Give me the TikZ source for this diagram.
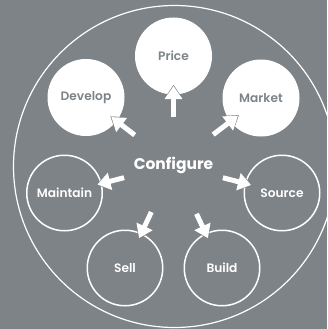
\documentclass[tikz,border=0pt]{standalone}
\usepackage{fontspec}
\setmainfont{Poppins SemiBold}[BoldFont=Poppins]
\newfontfamily\conffont{Poppins}[UprightFont=*-Bold]
\usetikzlibrary{arrows.meta}
\definecolor{bg}{HTML}{7E8387}
\tikzset{
  filledc/.style={circle,draw=white,fill=white,line width=1pt,minimum size=76pt,inner sep=0pt,text=bg,font=\fontsize{12.2}{14}\selectfont},
  openc/.style={circle,draw=white,line width=1.5pt,minimum size=75.5pt,inner sep=0pt,text=white,font=\fontsize{12.2}{14}\selectfont},
  outerc/.style={circle,draw=white,line width=1.2pt,minimum size=322pt,inner sep=0pt},
  conn/.style={white,line width=5pt,-{Triangle[length=13pt,width=17pt]}},
  halo/.style={bg,line width=0.1pt,-{Triangle[length=15pt,width=20pt]}}
}
\newcommand{\flowarrow}[3]{%
  \draw[halo,shorten <=#2pt,shorten >=#3pt-1pt] (conf.center) -- (#1.center);
  \draw[conn,shorten <=#2pt,shorten >=#3pt] (conf.center) -- (#1.center);
}
\begin{document}
\begin{tikzpicture}[x=1pt,y=-1pt]
\useasboundingbox (0,0) rectangle (327,329);
\clip (0,0) rectangle (327,329);
\fill[bg] (0,0) rectangle (327,329);
\node[outerc] (outer) at (174.5,166.5) {};
\node[filledc] (price) at (173.5,56) {Price};
\node[filledc] (develop) at (86,97.5) {Develop};
\node[filledc] (market) at (261,98) {Market};
\node[openc] (maintain) at (64.5,193) {Maintain};
\node[openc] (source) at (282,193) {Source};
\node[openc] (sell) at (125,268) {Sell};
\node[openc] (build) at (222,268) {Build};
\node[text=white,font=\fontsize{15.5}{18}\conffont,inner sep=0pt] (conf) at (173.5,165) {Configure};
\flowarrow{price}{48}{30}
\flowarrow{develop}{49}{32}
\flowarrow{market}{50}{29}
\flowarrow{maintain}{51}{34}
\flowarrow{source}{51}{32}
\flowarrow{sell}{52}{33}
\flowarrow{build}{54}{33}
\end{tikzpicture}
\end{document}
